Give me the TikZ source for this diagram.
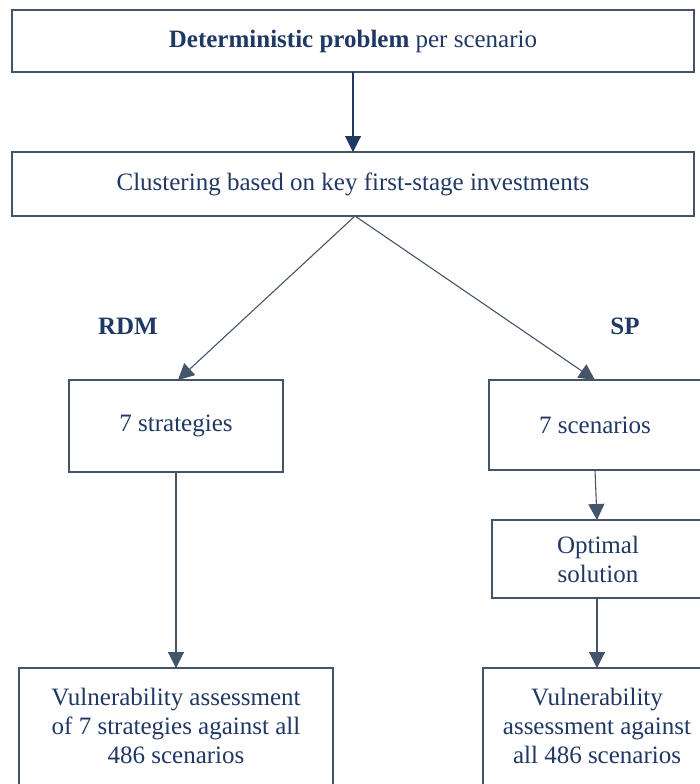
\documentclass[tikz,border=0pt]{standalone}
\usepackage{fontspec}
\setmainfont{Liberation Serif}
\usetikzlibrary{arrows.meta}
\definecolor{navy}{HTML}{1F3864}
\definecolor{slate}{HTML}{44546A}
\begin{document}
\begin{tikzpicture}[x=1pt,y=-1pt,
  box/.style={draw=slate,line width=1.3pt,fill=white},
  txt/.style={text=navy,font=\fontsize{25}{29}\selectfont,align=center},
  arr/.style={draw=slate,line width=1.1pt,-{Triangle[length=16pt,width=16pt]}},
  arrn/.style={draw=navy,line width=1.1pt,-{Triangle[length=16pt,width=16pt]}}]
\useasboundingbox (0,0) rectangle (700,784);
\clip (0,0) rectangle (700,784);
% boxes
\draw[box] (12,10) rectangle (694,72);
\node[txt] (b1) at (353,41) {\textbf{Deterministic problem} per scenario};
\draw[box] (12,152) rectangle (694,216);
\node[txt] (b2) at (353,184) {Clustering based on key first-stage investments};
\draw[box] (69,380) rectangle (283,472);
\node[txt] (s1) at (176,426) {7 strategies};
\draw[box] (489,380) rectangle (710,470);
\node[txt] (s2) at (595,425) {7 scenarios};
\draw[box] (492,520) rectangle (710,598);
\node[txt] (o) at (598,559) {Optimal\\solution};
\draw[box] (19,668) rectangle (333,800);
\node[txt] (v1) at (176,726) {Vulnerability assessment\\of 7 strategies against all\\486 scenarios};
\draw[box] (483,668) rectangle (712,800);
\node[txt] (v2) at (597,726) {Vulnerability\\assessment against\\all 486 scenarios};
% labels
\node[txt,font=\fontsize{25}{29}\selectfont\bfseries] (rdm) at (128,326) {RDM};
\node[txt,font=\fontsize{25}{29}\selectfont\bfseries] (sp) at (625,326) {SP};
% coordinates
\coordinate (t1) at (353,72);
\coordinate (t2) at (353,152);
\coordinate (c) at (355,216);
\coordinate (l) at (178,380);
\coordinate (r) at (595,380);
\coordinate (s1b) at (176,472);
\coordinate (v1t) at (176,668);
\coordinate (s2b) at (595,470);
\coordinate (ot) at (597,520);
\coordinate (ob) at (597,598);
\coordinate (v2t) at (597,668);
% arrows
\draw[arrn] (t1) -- (t2);
\draw[arr] (c) -- (l);
\draw[arr] (c) -- (r);
\draw[arr] (s1b) -- (v1t);
\draw[arr] (s2b) -- (ot);
\draw[arr] (ob) -- (v2t);
\end{tikzpicture}
\end{document}
